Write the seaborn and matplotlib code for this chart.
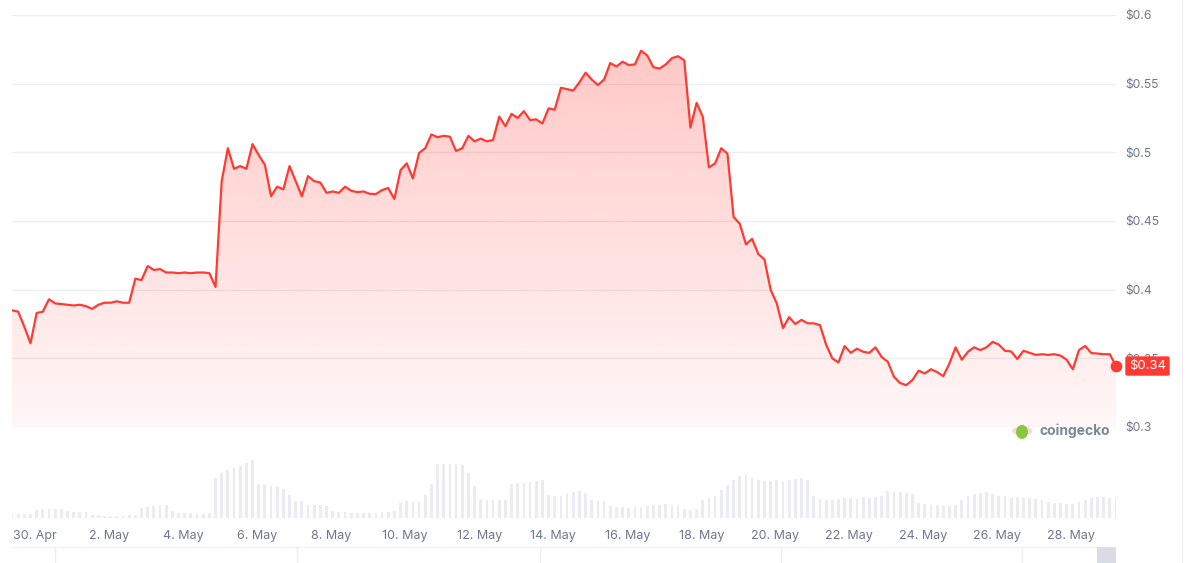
import numpy as np
import pandas as pd
import matplotlib
matplotlib.use('Agg')
import matplotlib.pyplot as plt
import matplotlib.dates as mdates
from matplotlib.patches import Circle, Ellipse, Rectangle
from matplotlib.lines import Line2D
import seaborn as sns

sns.set_theme(style='white')
plt.rcParams['font.family'] = ['Inter', 'DejaVu Sans']

# 4-hourly samples starting 29 Apr 09:00
start = '2024-04-29 09:00'
price = [
    0.385, 0.384, 0.373, 0.361, 0.383, 0.384, 0.393, 0.390, 0.3895, 0.389,
    0.3885, 0.389, 0.388, 0.386, 0.389, 0.3905, 0.3905, 0.3915, 0.3905, 0.3905,
    0.408, 0.407, 0.4172, 0.4143, 0.415, 0.4125, 0.4125, 0.412, 0.4125, 0.412,
    0.4125, 0.4125, 0.412, 0.402, 0.479, 0.503, 0.488, 0.490, 0.488, 0.506,
    0.498, 0.491, 0.468, 0.475, 0.473, 0.490, 0.479, 0.468, 0.4827, 0.479,
    0.478, 0.4705, 0.4715, 0.4705, 0.475, 0.472, 0.471, 0.4715, 0.4698, 0.4696,
    0.4725, 0.474, 0.466, 0.487, 0.492, 0.481, 0.4995, 0.503, 0.513, 0.511,
    0.512, 0.5114, 0.501, 0.503, 0.512, 0.508, 0.510, 0.508, 0.509, 0.526,
    0.519, 0.528, 0.525, 0.530, 0.5235, 0.524, 0.521, 0.532, 0.531, 0.547,
    0.546, 0.545, 0.551, 0.558, 0.553, 0.549, 0.553, 0.565, 0.5625, 0.566,
    0.5636, 0.564, 0.574, 0.5705, 0.562, 0.561, 0.564, 0.5686, 0.570, 0.567,
    0.518, 0.536, 0.526, 0.489, 0.492, 0.503, 0.499, 0.453, 0.448, 0.433,
    0.437, 0.426, 0.422, 0.400, 0.390, 0.372, 0.380, 0.375, 0.378, 0.3755,
    0.3755, 0.3742, 0.360, 0.350, 0.347, 0.3589, 0.354, 0.357, 0.3548, 0.354,
    0.358, 0.351, 0.3475, 0.3366, 0.332, 0.3305, 0.3342, 0.341, 0.339, 0.342,
    0.340, 0.337, 0.3463, 0.358, 0.349, 0.3548, 0.358, 0.356, 0.358, 0.362,
    0.360, 0.3555, 0.355, 0.3495, 0.3555, 0.354, 0.3525, 0.353, 0.3525, 0.353,
    0.352, 0.349, 0.342, 0.356, 0.359, 0.3538, 0.3535, 0.353, 0.353, 0.3444,
]
# volume, millions USD
volume = [
    4, 4, 4, 4, 8, 9, 9, 9, 9, 7, 6, 6, 6,
    3, 3, 2, 2, 2, 2, 3, 3, 10, 11, 12, 12, 13,
    7, 5, 5, 5, 4, 4, 5, 40, 45, 48, 50, 52, 55, 58,
    34, 33, 32, 31, 29, 23, 17, 17, 13, 13, 13, 12,
    7, 6, 6, 5, 5, 5, 5, 5, 6, 6, 7, 15, 17, 17, 17, 23, 34,
    54, 54, 54, 54, 53, 45, 32, 19, 18, 18, 18, 18,
    34, 35, 35, 36, 37, 38, 23, 22, 22, 25, 26, 27, 25, 18, 17, 17,
    12, 11, 11, 10, 11, 11, 12, 13, 13, 14, 13, 13, 9, 8, 9,
    18, 20, 22, 28, 33, 38, 42, 43, 40,
    38, 37, 37, 38, 37, 38, 39, 40, 38, 22, 19, 18,
    18, 19, 20, 20, 19, 21, 20, 21, 22, 27, 26, 26, 25, 24,
    15, 14, 13, 13, 12, 12, 13, 18, 22, 24, 25, 26, 24, 22,
    22, 20, 21, 20, 20, 19, 18, 16, 15, 15, 14, 14, 16, 18,
    20, 21, 21, 20, 20,
]
volume = [v / 10 for v in volume]

ytick_vals = [0.3, 0.35, 0.4, 0.45, 0.5, 0.55, 0.6]
ytick_labels = ['$0.3', '$0.35', '$0.4', '$0.45', '$0.5', '$0.55', '$0.6']
xtick_days = pd.date_range('2024-04-30', '2024-05-28', freq='2D')
xtick_labels = [f'{d.day}. {d.strftime("%b")}' for d in xtick_days]
last_label = '$0.34'

times = pd.date_range(start, periods=len(price), freq='4h')
df = pd.DataFrame({'time': times, 'price': price, 'volume': volume})

red = '#ff3a33'
grid_c = '#eceef2'
text_c = '#6f7888'

W, H = 1196, 563
fig = plt.figure(figsize=(W / 100, H / 100), dpi=100)


def px_axes(x0, y0, x1, y1):
    return fig.add_axes([x0 / W, 1 - y1 / H, (x1 - x0) / W, (y1 - y0) / H])


ax = px_axes(12, 15, 1116, 427)
axv = px_axes(12, 440, 1116, 518)
nav = px_axes(12, 547, 1116, 563)

# price panel
t_num = mdates.date2num(times)
ax.set_xlim(t_num[0], t_num[-1])
ax.set_ylim(0.3, 0.6)
poly = ax.fill_between(times, price, 0.3, color='none', lw=0)
grad = np.zeros((256, 1, 4))
grad[..., :3] = matplotlib.colors.to_rgb(red)
grad[:, 0, 3] = np.linspace(0.30, 0.04, 256)
im = ax.imshow(grad, aspect='auto', origin='upper',
               extent=[t_num[0], t_num[-1], 0.3, 0.6], zorder=1)
im.set_clip_path(poly.get_paths()[0], transform=ax.transData)
sns.lineplot(data=df, x='time', y='price', ax=ax, color=red, lw=1.6, zorder=3)
ax.set_xlim(t_num[0], t_num[-1])
ax.set_ylim(0.3, 0.6)

ax.set_yticks(ytick_vals)
ax.set_yticklabels(ytick_labels)
ax.yaxis.tick_right()
ax.tick_params(axis='y', length=0, pad=7, labelsize=8.7, labelcolor=text_c)
ax.set_xticks([])
ax.grid(axis='y', color=grid_c, lw=1)
ax.set_axisbelow(True)
ax.set_xlabel('')
ax.set_ylabel('')
for s in ax.spines.values():
    s.set_visible(False)

# last price marker and label
ax.scatter([times[-1]], [price[-1]], s=55, color=red, zorder=5, clip_on=False)
ax.annotate(last_label, (t_num[-1], price[-1]), xytext=(13, 0),
            textcoords='offset pixels', ha='left', va='center',
            color='white', fontsize=9.5, zorder=6, annotation_clip=False,
            bbox=dict(boxstyle='round,pad=0.28,rounding_size=0.15', fc=red, ec='none'))

# volume panel
axv.bar(times, volume, width=pd.Timedelta(hours=1.8), color='#eaecf1', lw=0)
axv.set_xlim(t_num[0], t_num[-1])
axv.set_ylim(0, 7.8)
axv.axhline(0, color='#e6e8ec', lw=1)
axv.set_yticks([])
axv.set_xticks(xtick_days)
axv.set_xticklabels(xtick_labels)
axv.tick_params(axis='x', length=4, width=1, color='#e3e6ea', pad=5,
                labelsize=9, labelcolor=text_c)
for s in axv.spines.values():
    s.set_visible(False)

# navigator strip
nav.set_xlim(0, 1104)
nav.set_ylim(0, 1)
nav.axhline(1, color='#e6e8ec', lw=1, ls=(0, (1, 1)))
for xv in [43, 285, 528, 769, 1010]:
    nav.axvline(xv, color='#eceef2', lw=1)
nav.add_patch(Rectangle((1085, 0), 19, 1, fc='#d9dce4', ec='none'))
nav.axis('off')

# right border of container
fig.add_artist(Line2D([1182 / W] * 2, [0, 1], color='#eef0f3', lw=1))

# coingecko watermark
fig.add_artist(Circle((1022 / W, 1 - 431 / H), 10 / W, transform=fig.transFigure,
                      fc='#f8d9d6', ec='none'))
fig.add_artist(Ellipse((1022 / W, 1 - 432 / H), 12 / W, 14 / H,
                       transform=fig.transFigure, fc='#8cc63f', ec='none'))
fig.text(1039 / W, 1 - 431 / H, 'coingecko', fontsize=10, fontweight='bold',
         color='#7d8798', ha='left', va='center')

fig.savefig('out.png', dpi=100)
